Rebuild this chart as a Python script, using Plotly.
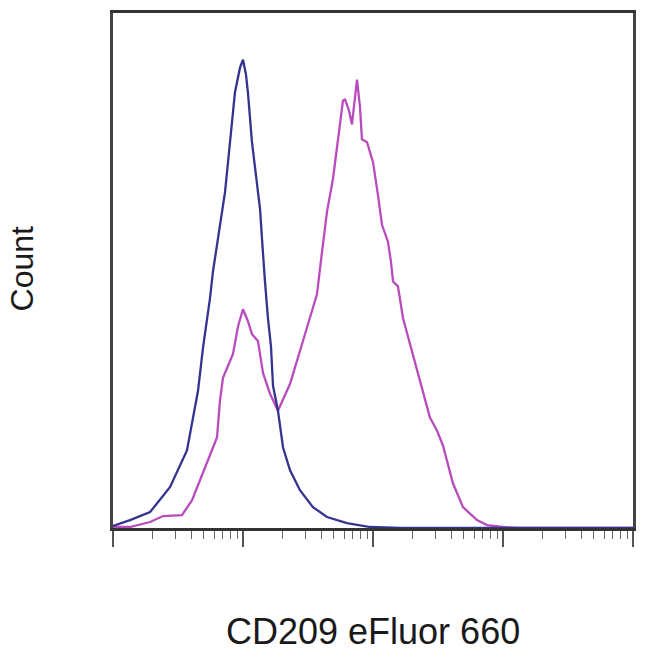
import plotly.graph_objects as go

# Fluorescence intensity in decades (log10 units) and event counts
blue_log = [0.000, 0.131, 0.285, 0.438, 0.569, 0.654, 0.692, 0.746, 0.769, 0.808,
            0.862, 0.900, 0.938, 0.977, 1.000, 1.023, 1.038, 1.069, 1.108, 1.131,
            1.146, 1.154, 1.169, 1.192, 1.215, 1.231, 1.269, 1.308, 1.362, 1.438,
            1.538, 1.646, 1.800, 1.977, 2.208, 4.000]
blue_count = [2, 8, 16, 41, 78, 138, 181, 231, 258, 291,
              338, 388, 438, 463, 471, 456, 438, 388, 348, 321,
              291, 273, 248, 211, 183, 143, 118, 81, 58, 38,
              21, 11, 5, 1, 0, 0]

pink_log = [0.000, 0.131, 0.285, 0.385, 0.531, 0.608, 0.669, 0.746, 0.800, 0.823,
            0.846, 0.923, 0.962, 1.000, 1.038, 1.069, 1.115, 1.154, 1.208, 1.269,
            1.362, 1.438, 1.515, 1.569, 1.608, 1.646, 1.692, 1.731, 1.769, 1.785,
            1.815, 1.838, 1.862, 1.877, 1.900, 1.915, 1.954, 2.000, 2.038, 2.069,
            2.115, 2.138, 2.154, 2.192, 2.231, 2.285, 2.338, 2.400, 2.438, 2.492,
            2.538, 2.615, 2.692, 2.800, 2.877, 3.000, 3.131, 4.000]
pink_count = [1, 1, 6, 12, 13, 28, 48, 73, 91, 128,
              151, 175, 203, 220, 208, 195, 188, 156, 135, 118,
              145, 178, 211, 235, 278, 318, 351, 391, 430, 431,
              420, 406, 433, 451, 423, 391, 388, 368, 335, 305,
              288, 268, 248, 243, 211, 185, 158, 128, 111, 98,
              83, 45, 21, 8, 3, 1, 0, 0]

x_title = "CD209 eFluor 660"
y_title = "Count"

fig = go.Figure()
fig.add_trace(go.Scatter(x=[10 ** v for v in pink_log], y=pink_count, mode="lines",
                         line=dict(color="#b84cbc", width=2.3), showlegend=False))
fig.add_trace(go.Scatter(x=[10 ** v for v in blue_log], y=blue_count, mode="lines",
                         line=dict(color="#34348f", width=2.3), showlegend=False))

fig.update_layout(
    width=642, height=646,
    margin=dict(l=105, r=17, t=2, b=126),
    paper_bgcolor="white", plot_bgcolor="white",
    font=dict(family="Liberation Sans, Arial, sans-serif", color="#111"),
    xaxis=dict(type="log", range=[0, 4], showgrid=False, zeroline=False,
               showline=True, mirror=True, linecolor="#333", linewidth=2.5,
               ticks="outside", ticklen=16, tickwidth=1.5, tickcolor="#555",
               dtick=1, showticklabels=False,
               minor=dict(ticks="outside", ticklen=8, tickwidth=1.2,
                          tickcolor="#666", dtick="D1", showgrid=False)),
    yaxis=dict(range=[0, 518], showgrid=False, zeroline=False,
               showline=True, mirror=True, linecolor="#444", linewidth=2.5,
               ticks="", showticklabels=False),
    annotations=[
        dict(text=x_title, xref="paper", yref="paper", x=0.5, y=-0.2008,
             xanchor="center", yanchor="middle", showarrow=False,
             font=dict(size=36, family="Liberation Sans, Arial, sans-serif", color="#1a1a1a")),
        dict(text=y_title, xref="paper", yref="paper", x=-0.1750, y=0.504,
             xanchor="center", yanchor="middle", showarrow=False, textangle=-90,
             font=dict(size=32, family="Liberation Sans, Arial, sans-serif", color="#1a1a1a")),
    ],
)

fig.write_html("out.html")
